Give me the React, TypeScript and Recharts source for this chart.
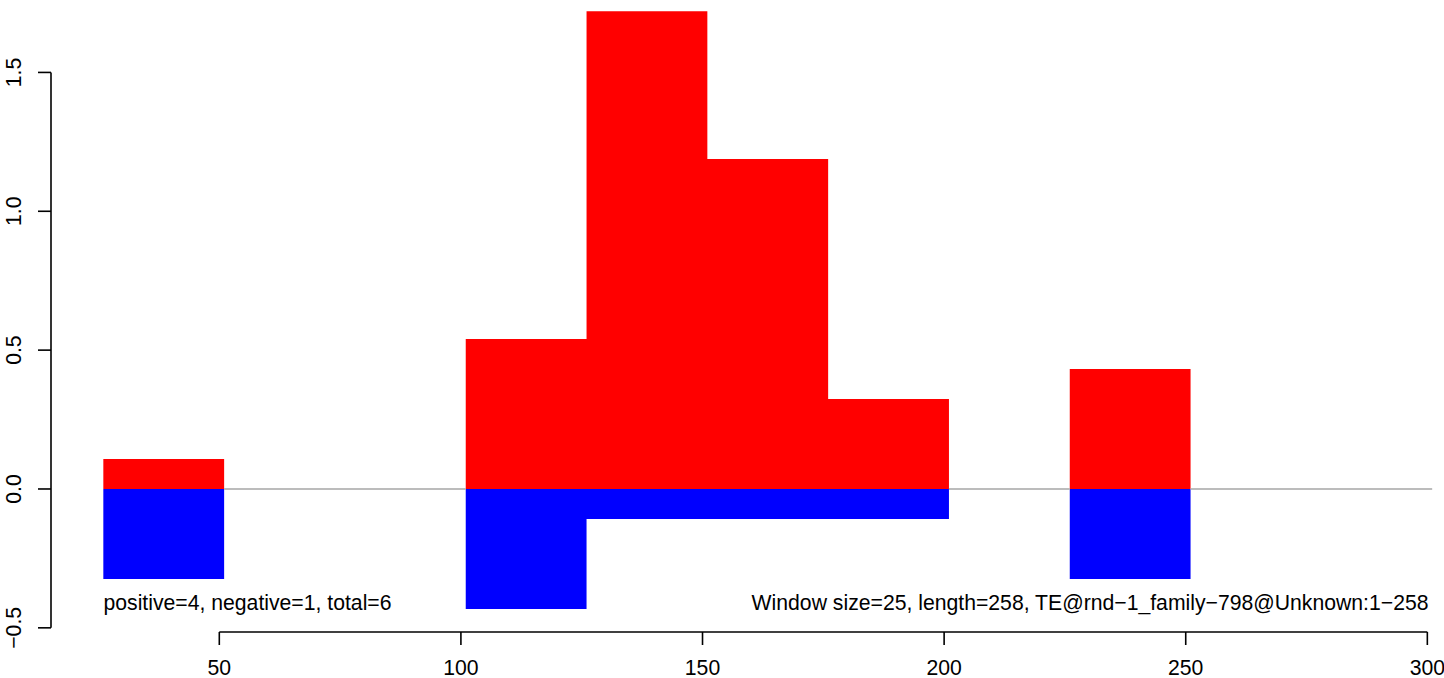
import { ComposedChart, Area, XAxis, YAxis, ReferenceLine } from "recharts";

// sliding-window scores, window size 25
const windowStarts = [26, 101, 126, 151, 176, 226];
const positiveScores = [0.108, 0.54, 1.72, 1.188, 0.324, 0.432];
const negativeScores = [-0.324, -0.432, -0.108, -0.108, -0.108, -0.324];
const xTicks = [50, 100, 150, 200, 250, 300];
const yTicks = [-0.5, 0, 0.5, 1, 1.5];
const windowSize = 25;
const baselineEnd = 301;

const leftNote = "positive=4, negative=1, total=6";
const rightNote = "Window size=25, length=258, TE@rnd\u22121_family\u2212798@Unknown:1\u2212258";

const FONT = '"Liberation Sans", Arial, Helvetica, sans-serif';
const FS = 21.2;
const X_DOMAIN: [number, number] = [15.17, 302];
const Y_DOMAIN: [number, number] = [-0.515, 1.75];

// step points: each window start carries its value, gaps fall back to 0
const stepData: { x: number; pos: number; neg: number }[] = [];
// uncovered stretches of the zero line (bars hide the rest of it)
const zeroGaps: [number, number][] = [];
windowStarts.forEach((s, i) => {
  stepData.push({ x: s, pos: positiveScores[i], neg: negativeScores[i] });
  const next = windowStarts[i + 1];
  if (next !== s + windowSize) {
    stepData.push({ x: s + windowSize, pos: 0, neg: 0 });
    zeroGaps.push([s + windowSize, next ?? baselineEnd]);
  }
});

const fmt = (v: number) => (v < 0 ? `\u2212${Math.abs(v).toFixed(1)}` : v.toFixed(1));

function YTick(props: any) {
  const { x, y, payload } = props;
  return (
    <text
      x={x}
      y={y}
      transform={`rotate(-90 ${x} ${y})`}
      textAnchor="middle"
      fontSize={FS}
      fontFamily={FONT}
      fill="#000"
    >
      {fmt(payload.value)}
    </text>
  );
}

export default function App() {
  return (
    <div style={{ position: "absolute", left: 0, top: 0, width: 1444, height: 678, background: "#fff" }}>
      <ComposedChart
        width={1444}
        height={678}
        data={stepData}
        margin={{ top: 3, right: 7, bottom: 0, left: 0 }}
      >
        <XAxis
          dataKey="x"
          type="number"
          domain={X_DOMAIN}
          allowDataOverflow
          ticks={xTicks}
          height={46}
          axisLine={false}
          tickLine={{ stroke: "#000", strokeWidth: 1.6 }}
          tickSize={13}
          tickMargin={15}
          tick={{ fill: "#000", fontSize: FS, fontFamily: FONT }}
        />
        <YAxis
          type="number"
          domain={Y_DOMAIN}
          allowDataOverflow
          ticks={yTicks}
          width={51}
          axisLine={false}
          tickLine={{ stroke: "#000", strokeWidth: 1.6 }}
          tickSize={13}
          tickMargin={17}
          tick={<YTick />}
        />
        <Area
          type="stepAfter"
          dataKey="pos"
          baseValue={0}
          stroke="none"
          fill="#ff0000"
          fillOpacity={1}
          dot={false}
          activeDot={false}
          isAnimationActive={false}
        />
        <Area
          type="stepAfter"
          dataKey="neg"
          baseValue={0}
          stroke="none"
          fill="#0000ff"
          fillOpacity={1}
          dot={false}
          activeDot={false}
          isAnimationActive={false}
        />
        {zeroGaps.map(([a, b]) => (
          <ReferenceLine
            key={a}
            segment={[{ x: a, y: 0 }, { x: b, y: 0 }]}
            stroke="#a6a6a6"
            strokeWidth={1.6}
            ifOverflow="visible"
          />
        ))}
        <ReferenceLine
          segment={[{ x: X_DOMAIN[0], y: -0.5 }, { x: X_DOMAIN[0], y: 1.5 }]}
          stroke="#000"
          strokeWidth={1.6}
          ifOverflow="visible"
        />
        <ReferenceLine
          segment={[{ x: 50, y: Y_DOMAIN[0] }, { x: 300, y: Y_DOMAIN[0] }]}
          stroke="#000"
          strokeWidth={1.6}
          ifOverflow="visible"
        />
      </ComposedChart>
      <svg
        width={1444}
        height={678}
        style={{ position: "absolute", left: 0, top: 0, pointerEvents: "none" }}
      >
        <text x={103.5} y={609.5} fontSize={FS} fontFamily={FONT} fill="#000">
          {leftNote}
        </text>
        <text x={1428.5} y={609.5} fontSize={FS} fontFamily={FONT} fill="#000" textAnchor="end">
          {rightNote}
        </text>
      </svg>
    </div>
  );
}
